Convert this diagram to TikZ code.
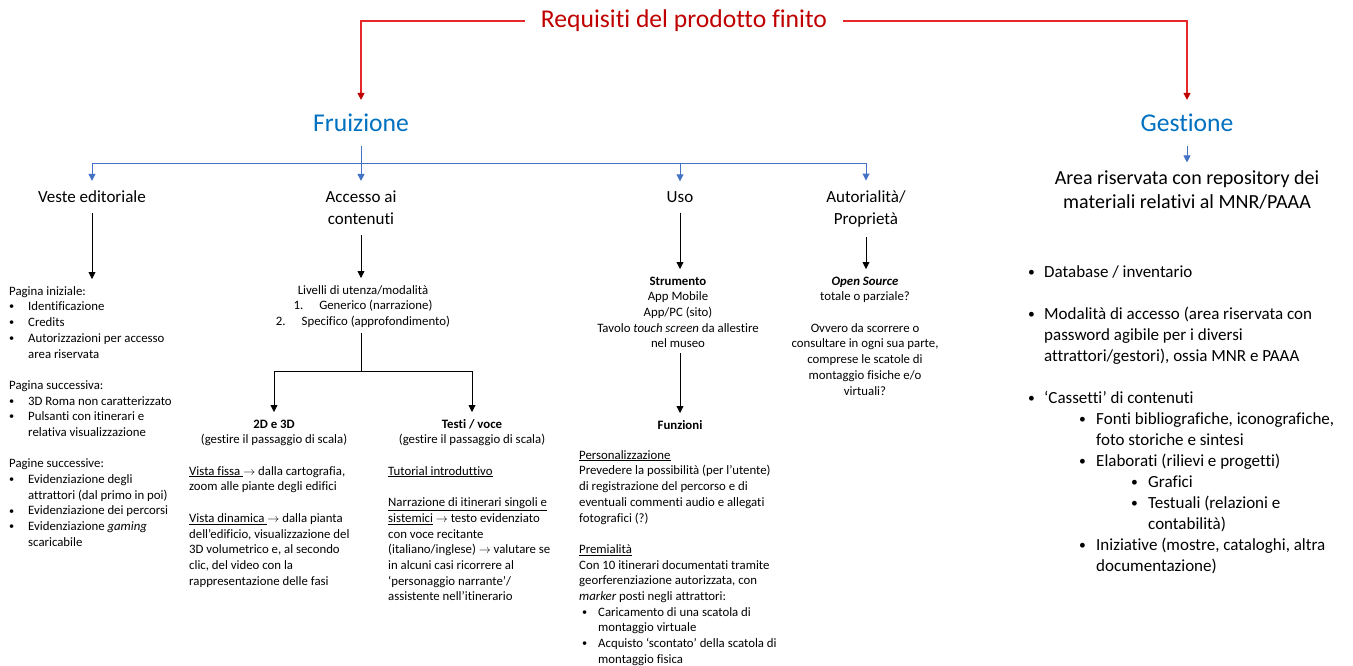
\documentclass[tikz,border=0pt]{standalone}
\usepackage{fontspec}
\setmainfont{Carlito}[Ligatures=CommonOff]
\usepackage{graphicx}
\usepackage{tikz}
\usetikzlibrary{positioning,arrows.meta}

\definecolor{titred}{RGB}{192,0,0}
\definecolor{linered}{RGB}{230,40,40}
\definecolor{headblue}{RGB}{0,112,192}
\definecolor{lineblue}{RGB}{68,114,196}

\newcommand{\pnt}[2]{\hspace*{#1}\makebox[#2][l]{\raisebox{0.15ex}{\scalebox{0.8}{\textbullet}}}}
\newcommand{\freccia}{$\rightarrow$}

\begin{document}
\begin{tikzpicture}[x=1pt, y=-1pt,
    title/.style={font=\fontsize{25.6}{30}\selectfont, inner xsep=16pt, inner ysep=14pt},
    head/.style={font=\fontsize{17}{22}\selectfont, align=center, inner xsep=2pt, inner ysep=10pt},
    body/.style={font=\fontsize{12.8}{15.7}\selectfont, inner xsep=0pt, inner ysep=5pt},
    redarrow/.style={color=linered, line width=1.1pt, -{Triangle[width=7pt,length=7pt,color=titred]}},
    blueline/.style={color=lineblue, line width=1pt},
    bluearrow/.style={blueline, -{Triangle[width=7pt,length=7pt]}},
    blackline/.style={color=black, line width=0.8pt},
    blackarrow/.style={blackline, -{Triangle[width=7pt,length=7pt]}}]

    \useasboundingbox (0,0) rectangle (1353,665);

    % main title
    \node[title,
    text=titred] (req) at (684,21) {Requisiti del prodotto finito};

    % the two branches
    \node[title,
    text=headblue] (fru) at (361,123) {Fruizione};
    \node[title,
    text=headblue] (ges) at (1187,123) {Gestione};

    % second level headings
    \node[head] (veste) at (92,197) {Veste editoriale};
    \node[head] (accesso) at (361,208) {Accesso ai\\contenuti};
    \node[head] (uso) at (680,197) {Uso};
    \node[head] (auto) at (866,209) {Autorialità/\\Proprietà};
    \node[head,
    font=\fontsize{20}{24}\selectfont,
    inner ysep=8pt] (area) at (1187,190) {Area riservata con repository dei\\materiali relativi al MNR/PAAA};

    % veste editoriale
    \node[body,
    align=left,
    anchor=north west] (pagine) at (9,279) {\strut Pagina iniziale:\\
    \pnt{0pt}{19pt}Identificazione\\
    \pnt{0pt}{19pt}Credits\\
    \pnt{0pt}{19pt}Autorizzazioni per accesso\\
    \hspace*{19pt}area riservata\\[15.7pt]
    Pagina successiva:\\
    \pnt{0pt}{19pt}3D Roma non caratterizzato\\
    \pnt{0pt}{19pt}Pulsanti con itinerari e\\
    \hspace*{19pt}relativa visualizzazione\\[15.7pt]
    Pagine successive:\\
    \pnt{0pt}{19pt}Evidenziazione degli\\
    \hspace*{19pt}attrattori (dal primo in poi)\\
    \pnt{0pt}{19pt}Evidenziazione dei percorsi\\
    \pnt{0pt}{19pt}Evidenziazione \textit{gaming}\\
    \hspace*{19pt}scaricabile};

    % accesso ai contenuti
    \node[body,
    align=center,
    anchor=north] (livelli) at (363,278) {\strut Livelli di utenza/modalità\\
    1.\hspace{16pt}Generico (narrazione)\\
    2.\hspace{16pt}Specifico (approfondimento)};
    \coordinate (lbus) at (361,371);

    \node[body,
    align=center,
    anchor=north] (vista) at (274,412) {\strut\textbf{2D e 3D}\\(gestire il passaggio di scala)};
    \node[body,
    align=left,
    anchor=north west] (vistatxt) at (189,459) {\strut\underline{Vista fissa\ }\freccia\ dalla cartografia,\\
    zoom alle piante degli edifici\\[15.7pt]
    \underline{Vista dinamica\ }\freccia\ dalla pianta\\
    dell’edificio, visualizzazione del\\
    3D volumetrico e, al secondo\\
    clic, del video con la\\
    rappresentazione delle fasi};

    \node[body,
    align=center,
    anchor=north] (testi) at (472,412) {\strut\textbf{Testi / voce}\\(gestire il passaggio di scala)};
    \node[body,
    align=left,
    anchor=north west] (testitxt) at (388,459) {\strut\underline{Tutorial introduttivo}\\[15.7pt]
    \underline{Narrazione di itinerari singoli e}\\
    \underline{sistemici} \freccia\ testo evidenziato\\
    con voce recitante\\
    (italiano/inglese) \freccia\ valutare se\\
    in alcuni casi ricorrere al\\
    ‘personaggio narrante’/\\
    assistente nell’itinerario};

    % uso
    \node[body,
    align=center,
    anchor=north] (strum) at (678,269) {\strut\textbf{Strumento}\\
    App Mobile\\
    App/PC (sito)\\
    Tavolo \textit{touch screen} da allestire\\
    nel museo};
    \node[body,
    anchor=north] (funz) at (680,413) {\strut\textbf{Funzioni}};
    \node[body,
    align=left,
    anchor=north west] (funztxt) at (579,443) {\strut\underline{Personalizzazione}\\
    Prevedere la possibilità (per l’utente)\\
    di registrazione del percorso e di\\
    eventuali commenti audio e allegati\\
    fotografici (?)\\[15.7pt]
    \underline{Premialità}\\
    Con 10 itinerari documentati tramite\\
    georferenziazione autorizzata, con\\
    \textit{marker} posti negli attrattori:\\
    \pnt{3pt}{16pt}Caricamento di una scatola di\\
    \hspace*{19pt}montaggio virtuale\\
    \pnt{3pt}{16pt}Acquisto ‘scontato’ della scatola di\\
    \hspace*{19pt}montaggio fisica};

    % autorialita
    \node[body,
    align=center,
    anchor=north] (opensrc) at (865,269) {\strut\textbf{\textit{Open Source}}\\
    totale o parziale?\\[15.7pt]
    Ovvero da scorrere o\\
    consultare in ogni sua parte,\\
    comprese le scatole di\\
    montaggio fisiche e/o\\
    virtuali?};

    % gestione list
    \node[body,
    font=\fontsize{17}{21}\selectfont,
    align=left,
    anchor=north west] (gestxt) at (1028,258) {\strut\pnt{0pt}{16pt}Database / inventario\\[21pt]
    \pnt{0pt}{16pt}Modalità di accesso (area riservata con\\
    \hspace*{16pt}password agibile per i diversi\\
    \hspace*{16pt}attrattori/gestori), ossia MNR e PAAA\\[21pt]
    \pnt{0pt}{16pt}‘Cassetti’ di contenuti\\
    \pnt{51pt}{17pt}Fonti bibliografiche, iconografiche,\\
    \hspace*{68pt}foto storiche e sintesi\\
    \pnt{51pt}{17pt}Elaborati (rilievi e progetti)\\
    \pnt{103pt}{17pt}Grafici\\
    \pnt{103pt}{17pt}Testuali (relazioni e\\
    \hspace*{120pt}contabilità)\\
    \pnt{51pt}{17pt}Iniziative (mostre, cataloghi, altra\\
    \hspace*{68pt}documentazione)};

    % drawing connectors
    \draw[redarrow] (req.west) -| (fru.north);
    \draw[redarrow] (req.east) -| (ges.north);

    \coordinate (fbus) at (361,163);
    \draw[blueline] (fru.south) -- (fbus);
    \foreach \n in {veste,accesso,uso,auto}
    {
        \draw[bluearrow] (fbus) -| (\n.north);
    }
    \draw[bluearrow] (ges.south) -- (area.north);

    \draw[blackarrow] (veste.south) -- (veste.south |- pagine.north);
    \draw[blackarrow] (accesso.south) -- (accesso.south |- livelli.north);
    \draw[blackline] (accesso.south |- livelli.south) -- (lbus);
    \draw[blackarrow] (lbus) -| (vista.north);
    \draw[blackarrow] (lbus) -| (testi.north);
    \draw[blackarrow] (uso.south) -- (uso.south |- strum.north);
    \draw[blackarrow] (uso.south |- strum.south) -- (funz.north);
    \draw[blackarrow] (auto.south) -- (auto.south |- opensrc.north);

\end{tikzpicture}
\end{document}
